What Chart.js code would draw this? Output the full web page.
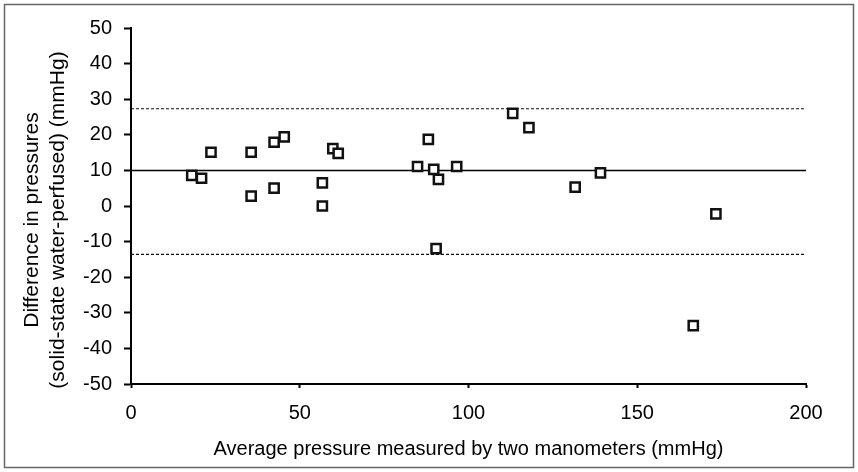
<!DOCTYPE html>
<html>
<head>
<meta charset="utf-8">
<script src="https://cdn.jsdelivr.net/npm/chart.js@4.4.1/dist/chart.umd.min.js"></script>
<style>
  html, body { margin: 0; padding: 0; background: #fff; }
  #wrap { width: 858px; height: 472px; }
</style>
</head>
<body>
<div id="wrap"><canvas id="myChart" width="858" height="472"></canvas></div>
<script>
//---------- data ----------
const avgPressure  = [18.0, 20.9, 23.7, 35.6, 35.6, 42.4, 45.4, 42.4, 56.7, 56.7, 59.8, 61.4,
                      84.9, 88.1, 89.7, 91.1, 96.5, 90.4, 113.1, 117.9, 131.6, 139.1, 173.3, 166.6];
const pressureDiff = [8.6, 7.8, 15.1, 15.1, 2.8, 17.9, 19.4, 5.0, 6.5, 0.0, 16.1, 14.8,
                      11.1, 18.7, 10.3, 7.5, 11.1, -12.0, 26.0, 22.0, 5.3, 9.3, -2.2, -33.6];
const meanDiff   = 10;
const upperLimit = 27.3;
const lowerLimit = -13.6;
const xRange = [0, 200];
const yRange = [-50, 50];
const xTickValues = [0, 50, 100, 150, 200];
const yTickValues = [-50, -40, -30, -20, -10, 0, 10, 20, 30, 40, 50];
const xTitle = 'Average pressure measured by two manometers (mmHg)';
const yTitle = ['Difference in pressures', '(solid-state water-perfused) (mmHg)'];

const fontFamily = '"Liberation Sans", Arial, Helvetica, sans-serif';

// build the point list and the horizontal reference lines
const points = avgPressure.map((x, i) => ({ x: x, y: pressureDiff[i] }));
const hLine = (v) => xRange.map(x => ({ x: x, y: v }));

// white background + thin frame around the whole figure
const frameBorder = {
  id: 'frameBorder',
  beforeDraw(chart) {
    const ctx = chart.ctx;
    ctx.save();
    ctx.fillStyle = '#fff';
    ctx.fillRect(0, 0, chart.width, chart.height);
    ctx.strokeStyle = '#666';
    ctx.lineWidth = 1.5;
    ctx.strokeRect(4.5, 4.5, 849, 463);
    ctx.restore();
  }
};

// y axis title: two rotated lines, sitting a bit below the middle of the axis like the original
const yAxisTitle = {
  id: 'yAxisTitle',
  afterDraw(chart) {
    const ctx = chart.ctx;
    const area = chart.chartArea;
    const cy = (area.top + area.bottom) / 2 + 14;
    ctx.save();
    ctx.fillStyle = '#000';
    ctx.font = '21px ' + fontFamily;
    ctx.textAlign = 'center';
    ctx.textBaseline = 'middle';
    yTitle.forEach((line, i) => {
      ctx.save();
      ctx.translate(32 + i * 26, cy);
      ctx.rotate(-Math.PI / 2);
      ctx.fillText(line, 0, 0);
      ctx.restore();
    });
    ctx.restore();
  }
};

const ctx = document.getElementById('myChart');
const chart = new Chart(ctx, {
  type: 'scatter',
  data: {
    datasets: [
      {
        data: hLine(upperLimit),
        showLine: true, borderColor: '#111', borderWidth: 1.1, borderDash: [3, 2],
        pointRadius: 0, order: 3
      },
      {
        data: hLine(lowerLimit),
        showLine: true, borderColor: '#111', borderWidth: 1.1, borderDash: [3, 2],
        pointRadius: 0, order: 3
      },
      {
        data: hLine(meanDiff),
        showLine: true, borderColor: '#000', borderWidth: 1.5,
        pointRadius: 0, order: 2
      },
      {
        data: points,
        pointStyle: 'rect', pointRadius: 6.5, pointHoverRadius: 6.5,
        borderColor: '#111', borderWidth: 2.5, backgroundColor: '#fff',
        order: 1
      }
    ]
  },
  options: {
    responsive: false,
    devicePixelRatio: 1,
    animation: false,
    layout: { padding: { left: 0, right: 52, top: 28, bottom: 0 } },
    plugins: { legend: { display: false }, tooltip: { enabled: false } },
    scales: {
      x: {
        type: 'linear', min: xRange[0], max: xRange[1],
        afterBuildTicks: (scale) => { scale.ticks = xTickValues.map(v => ({ value: v })); },
        afterFit: (scale) => { scale.height = 88; },
        grid: { drawOnChartArea: false, tickLength: 4, tickWidth: 2, tickColor: '#000' },
        border: { color: '#000', width: 2 },
        ticks: { color: '#000', padding: 13, maxRotation: 0, font: { family: fontFamily, size: 20 } },
        title: {
          display: true, text: xTitle, color: '#000',
          font: { family: fontFamily, size: 20, lineHeight: 1.2 },
          padding: { top: 0, bottom: 11 }
        }
      },
      y: {
        type: 'linear', min: yRange[0], max: yRange[1],
        afterBuildTicks: (scale) => { scale.ticks = yTickValues.map(v => ({ value: v })); },
        afterFit: (scale) => { scale.width = 131; },
        grid: { drawOnChartArea: false, tickLength: 7, tickWidth: 2, tickColor: '#000' },
        border: { color: '#000', width: 2 },
        ticks: { color: '#000', padding: 12, font: { family: fontFamily, size: 20 } },
        title: { display: false }
      }
    }
  },
  plugins: [frameBorder, yAxisTitle]
});
</script>
</body>
</html>
